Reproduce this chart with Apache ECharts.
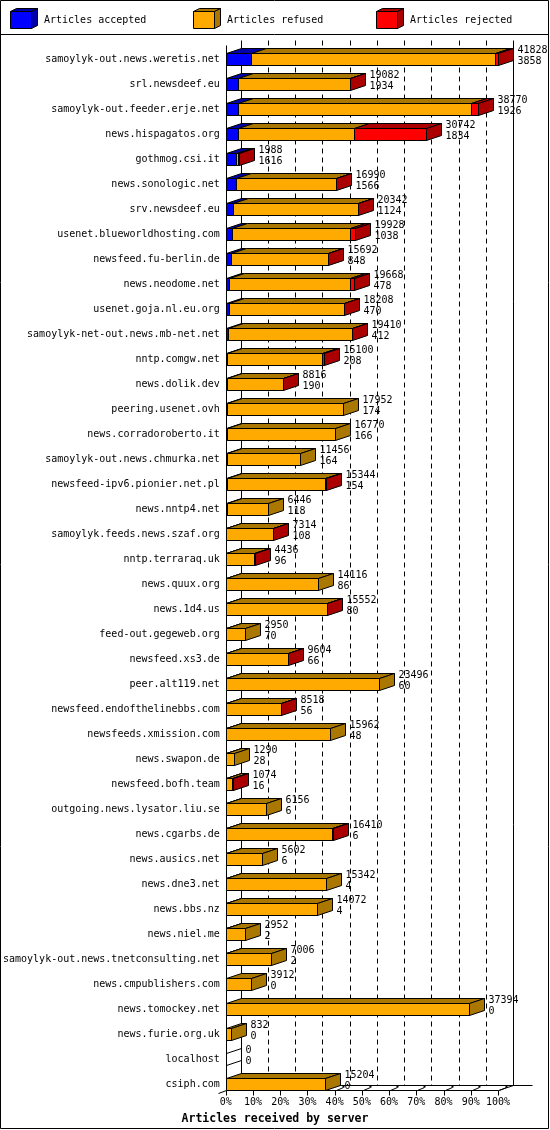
<!DOCTYPE html>
<html>
<head>
<meta charset="UTF-8">
<title>Articles received by server</title>
<script src="https://cdn.jsdelivr.net/npm/echarts@6/dist/echarts.min.js"></script>
<style>
    html, body { margin: 0; padding: 0; background: #fff; }
    #chart { width: 550px; height: 1130px; }
</style>
</head>
<body>
<div id="chart"></div>
<script>
const servers = [
    'samoylyk-out.news.weretis.net', 'srl.newsdeef.eu', 'samoylyk-out.feeder.erje.net', 'news.hispagatos.org',
    'gothmog.csi.it', 'news.sonologic.net', 'srv.newsdeef.eu', 'usenet.blueworldhosting.com',
    'newsfeed.fu-berlin.de', 'news.neodome.net', 'usenet.goja.nl.eu.org', 'samoylyk-net-out.news.mb-net.net',
    'nntp.comgw.net', 'news.dolik.dev', 'peering.usenet.ovh', 'news.corradoroberto.it',
    'samoylyk-out.news.chmurka.net', 'newsfeed-ipv6.pionier.net.pl', 'news.nntp4.net', 'samoylyk.feeds.news.szaf.org',
    'nntp.terraraq.uk', 'news.quux.org', 'news.1d4.us', 'feed-out.gegeweb.org',
    'newsfeed.xs3.de', 'peer.alt119.net', 'newsfeed.endofthelinebbs.com', 'newsfeeds.xmission.com',
    'news.swapon.de', 'newsfeed.bofh.team', 'outgoing.news.lysator.liu.se', 'news.cgarbs.de',
    'news.ausics.net', 'news.dne3.net', 'news.bbs.nz', 'news.niel.me',
    'samoylyk-out.news.tnetconsulting.net', 'news.cmpublishers.com', 'news.tomockey.net', 'news.furie.org.uk',
    'localhost', 'csiph.com'
];
// total offered (upper label) and accepted (lower label)
const totals = [
    41828, 19082, 38770, 30742, 1988, 16990, 20342, 19928, 15692, 19668, 18208, 19410,
    15100, 8816, 17952, 16770, 11456, 15344, 6446, 7314, 4436, 14116, 15552, 2950,
    9604, 23496, 8518, 15962, 1290, 1074, 6156, 16410, 5602, 15342, 14072, 2952,
    7006, 3912, 37394, 832, 0, 15204
];
const accepted = [
    3858, 1934, 1926, 1834, 1616, 1566, 1124, 1038, 848, 478, 470, 412,
    208, 190, 174, 166, 164, 154, 118, 108, 96, 86, 80, 70,
    66, 60, 56, 48, 28, 16, 6, 6, 6, 4, 4, 2,
    2, 0, 0, 0, 0, 0
];
const refused = [
    37520, 17088, 35794, 17808, 252, 15364, 19158, 18020, 14804, 18590, 17648, 18958,
    14592, 8586, 17778, 16604, 11292, 15160, 6328, 7176, 4310, 14030, 15442, 2880,
    9508, 23436, 8432, 15914, 1262, 888, 6150, 16374, 5596, 15338, 14068, 2950,
    7004, 3912, 37394, 832, 0, 15204
];
const rejected = [
    450, 60, 1050, 11100, 120, 60, 60, 870, 40, 600, 90, 40,
    300, 40, 0, 0, 0, 30, 0, 30, 30, 0, 30, 0,
    30, 0, 30, 0, 0, 170, 0, 30, 0, 0, 0, 0,
    0, 0, 0, 0, 0, 0
];
const seriesNames = ['Articles accepted', 'Articles refused', 'Articles rejected'];
const frontColors = ['#0000ff', '#ffaa00', '#ff0000'];
const darkColors = ['#0000aa', '#aa7700', '#aa0000'];

const MAX = Math.max(...totals);
const DX = 15, DY = 5, HALF = 6;
const FONT = 'DejaVu Sans Mono';
const parts = [accepted, refused, rejected];
const s = v => Math.round(v) + 0.5;

function segData(k) {
    return servers.map((name, i) => {
        let start = 0;
        for (let j = 0; j < k; j++) start += parts[j][i];
        return [i, start, start + parts[k][i]];
    });
}

function lastPart(i) {
    for (let j = 2; j >= 0; j--) if (parts[j][i] > 0) return j;
    return -1;
}

const renderSeg = k => (params, api) => {
    const i = api.value(0);
    const a = api.coord([api.value(1), i]);
    const b = api.coord([api.value(2), i]);
    const x0 = s(a[0]), x1 = s(b[0]);
    const yt = s(a[1] - HALF), yb = s(a[1] + HALF);
    const line = { stroke: '#000', lineWidth: 1 };
    const children = [];
    if (parts[k][i] > 0) {
        children.push({
            type: 'polygon',
            shape: { points: [[x0, yt], [x0 + DX, yt - DY], [x1 + DX, yt - DY], [x1, yt]] },
            style: Object.assign({ fill: darkColors[k] }, line)
        });
        children.push({
            type: 'rect',
            shape: { x: x0, y: yt, width: x1 - x0, height: yb - yt },
            style: Object.assign({ fill: frontColors[k] }, line)
        });
    }
    const last = lastPart(i);
    if (last === k || (last === -1 && k === 0)) {
        children.push({
            type: 'polygon',
            shape: { points: [[x1, yt], [x1 + DX, yt - DY], [x1 + DX, yb - DY], [x1, yb]] },
            style: Object.assign({ fill: last === -1 ? 'none' : darkColors[k] }, line)
        });
    }
    if (k === 2) {
        const tx = x1 + DX + 4;
        const txt = { fontFamily: FONT, fontSize: 10, fill: '#000', align: 'left', verticalAlign: 'middle' };
        children.push({ type: 'text', x: tx, y: a[1] - 8.5, style: Object.assign({ text: String(totals[i]) }, txt) });
        children.push({ type: 'text', x: tx, y: a[1] + 2.5, style: Object.assign({ text: String(accepted[i]) }, txt) });
    }
    return { type: 'group', children };
};

// back walls, floor, dashed grid and floor ticks
const renderFrame = (params, api) => {
    const n = servers.length;
    const first = api.coord([0, 0]);
    const lastRow = api.coord([MAX, n - 1]);
    const X0 = s(first[0]), X100 = s(lastRow[0]);
    const step = (lastRow[0] - first[0]) / 10;
    const yf = s(lastRow[1] + HALF);
    const yTop = s(first[1] - 19);
    const ln = (x1, y1, x2, y2, extra) => ({
        type: 'line',
        shape: { x1, y1, x2, y2 },
        style: Object.assign({ stroke: '#000', lineWidth: 1 }, extra || {})
    });
    const children = [
        ln(X0, yTop + DY, X0, yf),
        ln(X0 + DX, yTop, X0 + DX, yf - DY),
        ln(X100 + DX, yTop, X100 + DX, yf - DY),
        ln(X0 + DX, yf - DY, X100 + DX + 19, yf - DY),
        ln(X0, yf, X100, yf),
        ln(X100, yf, X100 + DX, yf - DY),
        ln(X0 - 8, yf + 3, X0, yf)
    ];
    for (let k = 0; k <= 10; k++) {
        const x = s(first[0] + k * step);
        if (k > 0 && k < 10) {
            children.push(ln(x + DX, yTop, x + DX, yf - DY, { lineDash: [5, 4] }));
        }
        children.push(ln(x, yf, x, yf + 5));
        if (k > 0) {
            children.push(ln(x + 1, yf, x + 8, yf - 3));
            children.push({ type: 'rect', shape: { x: x + 7, y: yf - 5, width: 2, height: 2 }, style: { fill: '#000' } });
        }
    }
    return { type: 'group', children };
};

// 3D legend boxes across the top
const legendX = [10, 193, 376];
const legendGraphics = [];
seriesNames.forEach((name, k) => {
    const x = legendX[k] + 0.5, y = 11.5, w = 21, h = 17, d = 6, e = 3;
    legendGraphics.push(
        { type: 'polygon', shape: { points: [[x, y], [x + d, y - e], [x + w + d, y - e], [x + w, y]] },
          style: { fill: darkColors[k], stroke: '#000', lineWidth: 1 } },
        { type: 'polygon', shape: { points: [[x + w, y], [x + w + d, y - e], [x + w + d, y + h - e], [x + w, y + h]] },
          style: { fill: darkColors[k], stroke: '#000', lineWidth: 1 } },
        { type: 'rect', shape: { x, y, width: w, height: h },
          style: { fill: frontColors[k], stroke: '#000', lineWidth: 1 } },
        { type: 'text', x: legendX[k] + 34, y: 20,
          style: { text: name, fontFamily: FONT, fontSize: 10, fill: '#000', verticalAlign: 'middle' } }
    );
});

const chart = echarts.init(document.getElementById('chart'), null, { renderer: 'canvas' });

const option = {
    animation: false,
    backgroundColor: '#fff',
    title: {
        text: 'Articles received by server',
        left: 'center',
        top: 1108,
        textStyle: { fontFamily: FONT, fontSize: 11.5, fontWeight: 'bold', color: '#000' }
    },
    grid: { left: 224, right: 52, top: 46.5, height: 1050 },
    xAxis: {
        type: 'value',
        min: 0,
        max: MAX,
        interval: MAX / 10,
        axisLine: { show: false },
        axisTick: { show: false },
        splitLine: { show: false },
        axisLabel: {
            margin: 1,
            fontFamily: FONT,
            fontSize: 10,
            color: '#000',
            showMaxLabel: true,
            formatter: v => Math.round(v / MAX * 100) + '%'
        }
    },
    yAxis: {
        type: 'category',
        inverse: true,
        data: servers,
        axisLine: { show: false },
        axisTick: { show: false },
        axisLabel: { margin: 6, fontFamily: FONT, fontSize: 10, color: '#000' }
    },
    graphic: [
        { type: 'rect', shape: { x: 0.5, y: 0.5, width: 548, height: 1128 }, style: { fill: 'none', stroke: '#000', lineWidth: 1 } },
        { type: 'line', shape: { x1: 0, y1: 34.5, x2: 549, y2: 34.5 }, style: { stroke: '#000', lineWidth: 1 } },
        { type: 'group', children: legendGraphics }
    ],
    series: [
        {
            type: 'custom',
            name: 'frame',
            renderItem: renderFrame,
            data: [[0, 0]],
            encode: { x: 1, y: 0 },
            silent: true
        }
    ].concat(seriesNames.map((name, k) => ({
        type: 'custom',
        name,
        renderItem: renderSeg(k),
        data: segData(k),
        encode: { x: [1, 2], y: 0 },
        itemStyle: { color: frontColors[k] }
    })))
};

chart.setOption(option);
window.addEventListener('resize', () => chart.resize());
</script>
</body>
</html>
